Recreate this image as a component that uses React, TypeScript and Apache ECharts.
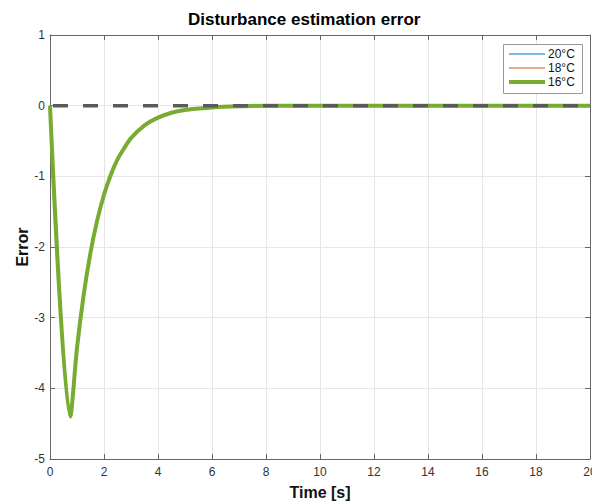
import React, { useEffect, useRef } from "react";
import * as echarts from "echarts";

const timeS = [0, 0.75, 1.0, 1.25, 1.5, 1.75, 2.0, 2.25, 2.5, 2.75, 3.0, 3.5, 4.0, 4.5, 5.0, 5.5, 6.0, 7.0, 8.0, 10.0, 20.0];
const error20 = [0, -4.4, -3.43, -2.67, -2.08, -1.62, -1.26, -0.98, -0.76, -0.6, -0.46, -0.28, -0.17, -0.1, -0.06, -0.04, -0.025, -0.01, 0, 0, 0];
const error18 = [0, -4.4, -3.43, -2.67, -2.08, -1.62, -1.26, -0.98, -0.76, -0.6, -0.46, -0.28, -0.17, -0.1, -0.06, -0.04, -0.025, -0.01, 0, 0, 0];
const error16 = [0, -4.4, -3.43, -2.67, -2.08, -1.62, -1.26, -0.98, -0.76, -0.6, -0.46, -0.28, -0.17, -0.1, -0.06, -0.04, -0.025, -0.01, 0, 0, 0];
const refTime = [0, 20];
const refValue = [0, 0];
const seriesNames = ["20°C", "18°C", "16°C"];

const pair = (xs: number[], ys: number[]) => xs.map((x, i) => [x, ys[i]]);

export default function App() {
  const ref = useRef<HTMLDivElement>(null);
  useEffect(() => {
    if (!ref.current) return;
    const chart = echarts.init(ref.current, null, { renderer: "svg" });
    const font = "'Liberation Sans', Arial, Helvetica, sans-serif";
    const axisColor = "#666";
    const gridColor = "#e6e6e6";
    const legendCenters = [54, 68, 82];
    const legendThick = [1, 1, 4];
    const legends = seriesNames.map((n, i) => ({
      orient: "vertical",
      left: 509,
      top: legendCenters[i] - 7,
      data: [n],
      icon: "rect",
      padding: 0,
      itemWidth: 36,
      itemHeight: legendThick[i],
      textStyle: { fontSize: 12, color: "#111", fontFamily: font, lineHeight: 14, padding: [0, 0, 0, -2] },
      z: 6,
    }));
    chart.setOption({
      animation: false,
      backgroundColor: "#fff",
      textStyle: { fontFamily: font },
      title: {
        text: "Disturbance estimation error",
        left: 183,
        top: 6,
        textStyle: { fontSize: 17, fontWeight: "bold", color: "#000", fontFamily: font },
      },
      legend: legends,
      graphic: [
        {
          type: "rect",
          left: 503,
          top: 44,
          z: 5,
          shape: { width: 79, height: 49 },
          style: { fill: "#fff", stroke: "#999", lineWidth: 1 },
        },
      ],
      grid: { left: 50, right: 2, top: 35, bottom: 45, outerBoundsMode: "none", containLabel: false },
      xAxis: [
        {
          type: "value",
          min: 0,
          max: 20,
          interval: 2,
          name: "Time [s]",
          nameLocation: "middle",
          nameGap: 25,
          nameTextStyle: { fontSize: 16, fontWeight: "bold", color: "#111", fontFamily: font },
          axisLine: { show: true, onZero: false, lineStyle: { color: axisColor, width: 1 } },
          axisTick: { show: true, inside: true, length: 5, lineStyle: { color: axisColor } },
          axisLabel: { fontSize: 12, color: "#333", margin: 7, fontFamily: font },
          splitLine: { show: true, lineStyle: { color: gridColor, width: 1 } },
        },
        {
          type: "value",
          position: "top",
          min: 0,
          max: 20,
          interval: 2,
          axisLine: { show: true, onZero: false, lineStyle: { color: axisColor, width: 1 } },
          axisTick: { show: true, inside: true, length: 5, lineStyle: { color: axisColor } },
          axisLabel: { show: false },
          splitLine: { show: false },
        },
      ],
      yAxis: [
        {
          type: "value",
          min: -5,
          max: 1,
          interval: 1,
          name: "Error",
          nameLocation: "middle",
          nameGap: 20,
          nameMoveOverlap: false,
          nameTextStyle: { fontSize: 16, fontWeight: "bold", color: "#111", fontFamily: font },
          axisLine: { show: true, onZero: false, lineStyle: { color: axisColor, width: 1 } },
          axisTick: { show: true, inside: true, length: 5, lineStyle: { color: axisColor } },
          axisLabel: { fontSize: 12, color: "#333", margin: 5, fontFamily: font },
          splitLine: { show: true, lineStyle: { color: gridColor, width: 1 } },
        },
        {
          type: "value",
          position: "right",
          min: -5,
          max: 1,
          interval: 1,
          axisLine: { show: true, onZero: false, lineStyle: { color: axisColor, width: 1 } },
          axisTick: { show: true, inside: true, length: 5, lineStyle: { color: axisColor } },
          axisLabel: { show: false },
          splitLine: { show: false },
        },
      ],
      series: [
        {
          name: seriesNames[0],
          type: "line",
          data: pair(timeS, error20),
          smooth: 0.3,
          showSymbol: false,
          symbol: "none",
          color: "#0072BD",
          lineStyle: { width: 1, color: "#0072BD" },
        },
        {
          name: seriesNames[1],
          type: "line",
          data: pair(timeS, error18),
          smooth: 0.3,
          showSymbol: false,
          symbol: "none",
          color: "#D95319",
          lineStyle: { width: 1, color: "#D95319" },
        },
        {
          name: seriesNames[2],
          type: "line",
          data: pair(timeS, error16),
          smooth: 0.3,
          showSymbol: false,
          symbol: "none",
          color: "#77AC30",
          lineStyle: { width: 4, color: "#77AC30" },
        },
        {
          name: "reference",
          type: "line",
          data: pair(refTime, refValue),
          showSymbol: false,
          symbol: "none",
          color: "#555",
          lineStyle: { width: 3.5, color: "#5a5a5a", type: [15, 15], dashOffset: -3 },
          z: 5,
        },
      ],
    });
    return () => chart.dispose();
  }, []);
  return <div ref={ref} style={{ width: 592, height: 504, position: "absolute", left: 0, top: 0 }} />;
}
